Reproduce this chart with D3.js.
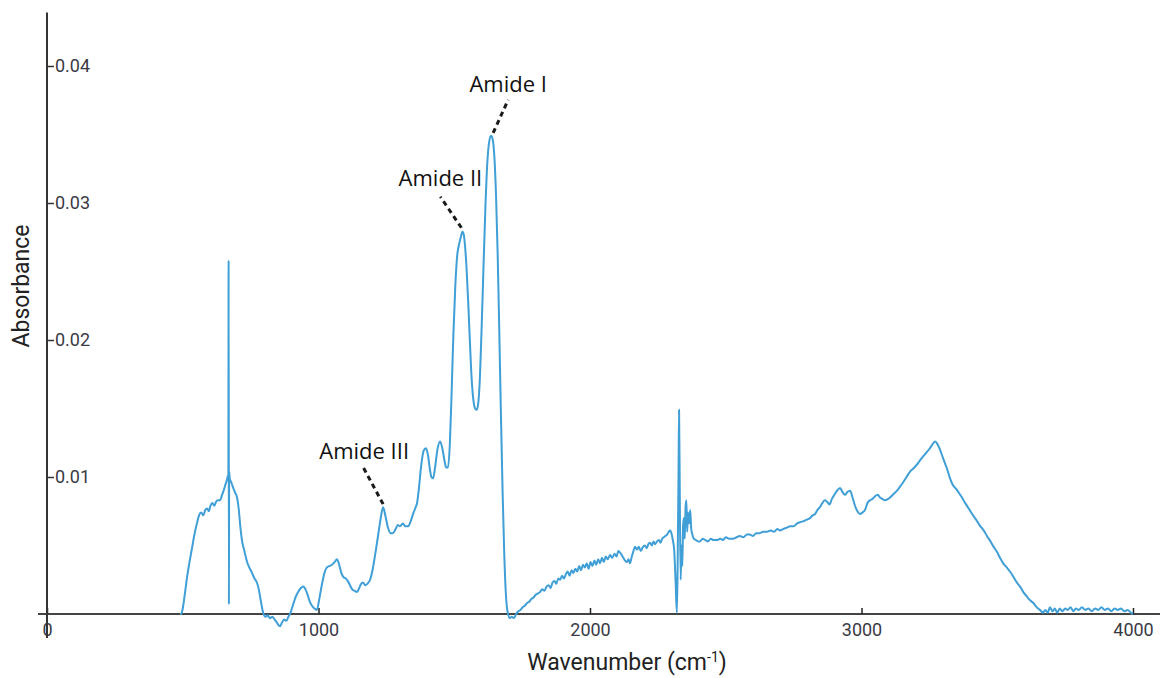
<!DOCTYPE html>
<html>
<head>
<meta charset="utf-8">
<script src="https://cdn.jsdelivr.net/npm/d3@7"></script>
<style>
  body { margin: 0; background: #fff; }
  #chart svg { display: block; }
  .tick-label { font-family: Roboto, 'Liberation Sans', sans-serif; font-size: 18px; fill: #3a3a44; }
  .axis-title { font-family: Roboto, sans-serif; font-size: 23px; fill: #222; }
  .amide-label { font-family: 'Open Sans', Roboto, sans-serif; font-size: 22px; fill: #111; }
</style>
</head>
<body>
<div id="chart"></div>
<script>
// spectrum
const wavenumbers = [
  490, 494, 500, 508, 516, 525, 534, 543, 552, 560, 568, 576, 583, 590, 596, 602, 609, 616, 623, 630,
  637, 645, 652, 658, 663, 666, 668, 669, 670, 671, 673, 679, 686, 692, 700, 706, 712, 718, 727, 737,
  745, 755, 764, 773, 780, 788, 796, 805, 813, 821, 830, 838, 846, 852, 858, 866, 874, 882, 889, 895,
  905, 915, 925, 935, 945, 952, 960, 968, 976, 985, 994, 1003, 1012, 1022, 1031, 1040, 1050, 1060, 1068, 1076,
  1084, 1092, 1100, 1108, 1116, 1124, 1132, 1142, 1150, 1157, 1164, 1172, 1180, 1190, 1200, 1210, 1220, 1230, 1238, 1246,
  1256, 1266, 1274, 1284, 1292, 1300, 1311, 1320, 1330, 1340, 1350, 1358, 1363, 1370, 1378, 1387, 1396, 1404, 1410, 1416,
  1422, 1430, 1438, 1448, 1456, 1464, 1470, 1477, 1484, 1490, 1497, 1504, 1511, 1518, 1524, 1530, 1535, 1540, 1546, 1552,
  1558, 1564, 1570, 1577, 1583, 1589, 1595, 1601, 1608, 1615, 1622, 1629, 1636, 1642, 1648, 1654, 1660, 1666, 1672, 1678,
  1684, 1690, 1697, 1705, 1712, 1720, 1728, 1736, 1744, 1752, 1760, 1768, 1776, 1784, 1792, 1800, 1808, 1816, 1824, 1832,
  1840, 1848, 1855, 1862, 1869, 1876, 1883, 1890, 1897, 1904, 1911, 1918, 1925, 1932, 1939, 1946, 1953, 1960, 1967, 1974,
  1981, 1988, 1995, 2002, 2009, 2016, 2023, 2030, 2037, 2044, 2051, 2058, 2065, 2074, 2082, 2090, 2098, 2104, 2110, 2117,
  2123, 2129, 2136, 2142, 2147, 2154, 2160, 2166, 2173, 2180, 2187, 2195, 2202, 2209, 2215, 2221, 2228, 2234, 2240, 2247,
  2254, 2260, 2266, 2272, 2278, 2284, 2290, 2295, 2300, 2305, 2310, 2315, 2320, 2323, 2326, 2328, 2331, 2334, 2337, 2340,
  2343, 2346, 2349, 2352, 2355, 2358, 2361, 2365, 2369, 2373, 2377, 2382, 2390, 2398, 2405, 2415, 2425, 2435, 2445, 2455,
  2468, 2480, 2490, 2500, 2512, 2527, 2540, 2552, 2565, 2578, 2589, 2600, 2612, 2625, 2638, 2652, 2665, 2678, 2690, 2700,
  2711, 2725, 2737, 2750, 2762, 2774, 2790, 2800, 2810, 2820, 2829, 2838, 2847, 2856, 2865, 2873, 2882, 2891, 2900, 2910,
  2921, 2930, 2939, 2948, 2958, 2967, 2976, 2985, 2994, 3003, 3013, 3022, 3031, 3040, 3050, 3060, 3068, 3077, 3086, 3098,
  3110, 3120, 3131, 3142, 3153, 3166, 3179, 3190, 3204, 3215, 3227, 3240, 3252, 3262, 3271, 3280, 3289, 3300, 3315, 3326,
  3337, 3350, 3360, 3370, 3385, 3398, 3411, 3425, 3438, 3450, 3462, 3475, 3487, 3500, 3510, 3522, 3535, 3547, 3560, 3572,
  3584, 3596, 3608, 3621, 3633, 3645, 3657, 3669, 3677, 3686, 3694, 3703, 3712, 3721, 3730, 3740, 3750, 3760, 3770, 3780,
  3790, 3800, 3812, 3824, 3836, 3848, 3860, 3872, 3884, 3896, 3908, 3920, 3932, 3944, 3956, 3968, 3980, 3992, 4000
];

const absorbance = [
  0, 0, 0.0004, 0.0015, 0.0027, 0.0038, 0.0048, 0.0058, 0.0066, 0.0072, 0.0074, 0.0072, 0.0076, 0.0077, 0.0075, 0.0079, 0.0081, 0.0079, 0.0082, 0.0083,
  0.0083, 0.0087, 0.0091, 0.0095, 0.0098, 0.0101, 0.0099, 0.0258, 0.0007, 0.0104, 0.0099, 0.0096, 0.0092, 0.0089, 0.0085, 0.0077, 0.0064, 0.0054, 0.0046, 0.0038,
  0.0034, 0.0030, 0.0026, 0.0023, 0.0018, 0.0009, 0.0001, -0.0002, -0.0001, -0.0003, -0.0002, -0.0004, -0.0006, -0.0008, -0.0009, -0.0006, -0.0004, -0.0005, -0.0002, 0.0000,
  0.0006, 0.0012, 0.0016, 0.0019, 0.0020, 0.0018, 0.0014, 0.0009, 0.0006, 0.0004, 0.0003, 0.0011, 0.0021, 0.0030, 0.0034, 0.0035, 0.0036, 0.0038, 0.0040, 0.0036,
  0.0030, 0.0027, 0.0026, 0.0024, 0.0021, 0.0018, 0.0017, 0.0016, 0.0019, 0.0022, 0.0023, 0.0021, 0.0022, 0.0025, 0.0033, 0.0045, 0.0058, 0.0071, 0.0078, 0.0072,
  0.0063, 0.0059, 0.0059, 0.0062, 0.0065, 0.0064, 0.0066, 0.0064, 0.0064, 0.0068, 0.0074, 0.0078, 0.0081, 0.0092, 0.0108, 0.0119, 0.0121, 0.0115, 0.0106, 0.0100,
  0.0099, 0.0108, 0.0120, 0.0126, 0.0121, 0.0112, 0.0107, 0.0107, 0.0125, 0.0160, 0.0205, 0.0240, 0.0262, 0.0270, 0.0275, 0.0279, 0.0277, 0.0268, 0.0250, 0.0225,
  0.0197, 0.0172, 0.0157, 0.0150, 0.0149, 0.0155, 0.0175, 0.0210, 0.0255, 0.0298, 0.0330, 0.0345, 0.0349, 0.0346, 0.0333, 0.0305, 0.0262, 0.0205, 0.0145, 0.0090,
  0.0045, 0.0015, 0.0001, -0.0003, -0.0002, -0.0003, 0.0000, 0.0002, 0.0003, 0.0005, 0.0006, 0.0008, 0.0009, 0.0011, 0.0012, 0.0014, 0.0015, 0.0016, 0.0018, 0.0017,
  0.0020, 0.0021, 0.0019, 0.0023, 0.0024, 0.0022, 0.0026, 0.0025, 0.0028, 0.0026, 0.0029, 0.0031, 0.0028, 0.0032, 0.0030, 0.0033, 0.0031, 0.0035, 0.0032, 0.0036,
  0.0034, 0.0037, 0.0033, 0.0038, 0.0035, 0.0039, 0.0036, 0.0040, 0.0037, 0.0041, 0.0038, 0.0042, 0.0040, 0.0043, 0.0041, 0.0044, 0.0042, 0.0046, 0.0045, 0.0043,
  0.0041, 0.0039, 0.0038, 0.0040, 0.0037, 0.0042, 0.0046, 0.0049, 0.0047, 0.0049, 0.0046, 0.0049, 0.0050, 0.0048, 0.0051, 0.0052, 0.0050, 0.0053, 0.0051, 0.0053,
  0.0054, 0.0052, 0.0055, 0.0056, 0.0057, 0.0058, 0.0060, 0.0061, 0.0059, 0.0054, 0.0047, 0.0025, 0.0001, 0.0040, 0.0100, 0.0149, 0.0080, 0.0025, 0.0050, 0.0035,
  0.0065, 0.0070, 0.0055, 0.0078, 0.0083, 0.0060, 0.0074, 0.0066, 0.0076, 0.0062, 0.0058, 0.0055, 0.0054, 0.0053, 0.0053, 0.0055, 0.0054, 0.0053, 0.0055, 0.0054,
  0.0054, 0.0055, 0.0054, 0.0056, 0.0055, 0.0055, 0.0056, 0.0057, 0.0056, 0.0058, 0.0058, 0.0057, 0.0059, 0.0059, 0.0060, 0.0060, 0.0061, 0.0060, 0.0062, 0.0061,
  0.0062, 0.0063, 0.0064, 0.0064, 0.0066, 0.0067, 0.0068, 0.0069, 0.0070, 0.0072, 0.0073, 0.0076, 0.0078, 0.0081, 0.0083, 0.0082, 0.0080, 0.0084, 0.0087, 0.0090,
  0.0092, 0.0089, 0.0087, 0.0089, 0.0090, 0.0085, 0.0079, 0.0075, 0.0073, 0.0074, 0.0076, 0.0081, 0.0083, 0.0084, 0.0086, 0.0087, 0.0085, 0.0084, 0.0083, 0.0084,
  0.0086, 0.0088, 0.0090, 0.0093, 0.0096, 0.0100, 0.0104, 0.0106, 0.0109, 0.0112, 0.0115, 0.0118, 0.0121, 0.0124, 0.0126, 0.0124, 0.0120, 0.0114, 0.0106, 0.0099,
  0.0094, 0.0091, 0.0088, 0.0085, 0.0080, 0.0076, 0.0072, 0.0068, 0.0064, 0.0061, 0.0057, 0.0053, 0.0049, 0.0045, 0.0041, 0.0037, 0.0034, 0.0031, 0.0027, 0.0023,
  0.0020, 0.0016, 0.0013, 0.0010, 0.0008, 0.0005, 0.0003, 0.0001, 0.0003, 0.0001, 0.0005, 0.0002, 0.0004, 0.0001, 0.0004, 0.0002, 0.0004, 0.0003, 0.0005, 0.0002,
  0.0004, 0.0003, 0.0005, 0.0003, 0.0004, 0.0002, 0.0004, 0.0003, 0.0005, 0.0003, 0.0004, 0.0002, 0.0004, 0.0003, 0.0004, 0.0002, 0.0003, 0.0001, 0.0000
];

const xTicks = [0, 1000, 2000, 3000, 4000];
const yTicks = [0.01, 0.02, 0.03, 0.04];

const amideLabels = ['Amide I', 'Amide II', 'Amide III'];
const amidePeaks = [1636, 1530, 1238];

const width = 1160;
const height = 678;

const svg = d3
  .select('#chart')
  .append('svg')
  .attr('width', width)
  .attr('height', height);

const x = d3.scaleLinear().domain([0, 4000]).range([47, 1133]);
const y = d3.scaleLinear().domain([0, 0.04]).range([614, 66]);
const yTop = 0.0439;

const data = wavenumbers.map((w, i) => ({ w, a: absorbance[i] }));

// x axis, ticks pointing up into the plot
const xAxis = svg
  .append('g')
  .attr('transform', `translate(0,${y(0)})`)
  .call(
    d3
      .axisBottom(x)
      .tickValues(xTicks)
      .tickSizeInner(-6)
      .tickSizeOuter(0)
      .tickFormat(d3.format('d'))
  );
xAxis.select('.domain').attr('d', `M38,0H1160`).attr('stroke', '#444').attr('stroke-width', 2);
xAxis.selectAll('.tick line').attr('stroke', '#222').attr('stroke-width', 1.5);
xAxis
  .selectAll('.tick text')
  .attr('class', 'tick-label')
  .attr('y', 22)
  .attr('dy', 0);

// y axis, ticks and labels on the right of the line
const yAxis = svg
  .append('g')
  .attr('transform', `translate(${x(0)},0)`)
  .call(
    d3
      .axisRight(y)
      .tickValues(yTicks)
      .tickSizeInner(7)
      .tickSizeOuter(0)
      .tickPadding(1)
      .tickFormat(d3.format('.2f'))
  );
yAxis
  .select('.domain')
  .attr('d', `M0,${y(yTop)}V638`)
  .attr('stroke', '#333')
  .attr('stroke-width', 2);
yAxis.selectAll('.tick line').attr('stroke', '#333').attr('stroke-width', 1.5);
yAxis.selectAll('.tick text').attr('class', 'tick-label');

// spectrum
const line = d3
  .line()
  .x(d => x(d.w))
  .y(d => y(d.a))
  .curve(d3.curveMonotoneX);

svg
  .append('path')
  .datum(data)
  .attr('fill', 'none')
  .attr('stroke', '#3f9fd6')
  .attr('stroke-width', 2)
  .attr('stroke-linejoin', 'round')
  .attr('d', line);

// amide annotations: leader from peak, label above it
const leader = [
  { x1: 2, y1: -3, x2: 17, y2: -36, tx: 17, ty: -44 },
  { x1: -1, y1: -4, x2: -22, y2: -35, tx: -22, ty: -46 },
  { x1: 0, y1: -3, x2: -20, y2: -40, tx: -19, ty: -48 }
];

const ann = svg
  .selectAll('.amide')
  .data(amideLabels)
  .enter()
  .append('g')
  .attr('class', 'amide')
  .attr('transform', (d, i) => {
    const j = wavenumbers.indexOf(amidePeaks[i]);
    return `translate(${x(amidePeaks[i])},${y(absorbance[j])})`;
  });

ann
  .append('line')
  .attr('x1', (d, i) => leader[i].x1)
  .attr('y1', (d, i) => leader[i].y1)
  .attr('x2', (d, i) => leader[i].x2)
  .attr('y2', (d, i) => leader[i].y2)
  .attr('stroke', '#1a1a1a')
  .attr('stroke-width', 3)
  .attr('stroke-dasharray', '5,4');

ann
  .append('text')
  .attr('class', 'amide-label')
  .attr('x', (d, i) => leader[i].tx)
  .attr('y', (d, i) => leader[i].ty)
  .attr('text-anchor', 'middle')
  .text(d => d);

// axis titles
const xTitle = svg
  .append('text')
  .attr('class', 'axis-title')
  .attr('x', 627)
  .attr('y', 670)
  .attr('text-anchor', 'middle');
xTitle.append('tspan').text('Wavenumber (cm');
xTitle
  .append('tspan')
  .attr('dy', -8)
  .attr('font-size', 14)
  .text('-1');
xTitle
  .append('tspan')
  .attr('dy', 8)
  .text(')');

svg
  .append('text')
  .attr('class', 'axis-title')
  .attr('transform', 'translate(29,286) rotate(-90)')
  .attr('text-anchor', 'middle')
  .text('Absorbance');
</script>
</body>
</html>
